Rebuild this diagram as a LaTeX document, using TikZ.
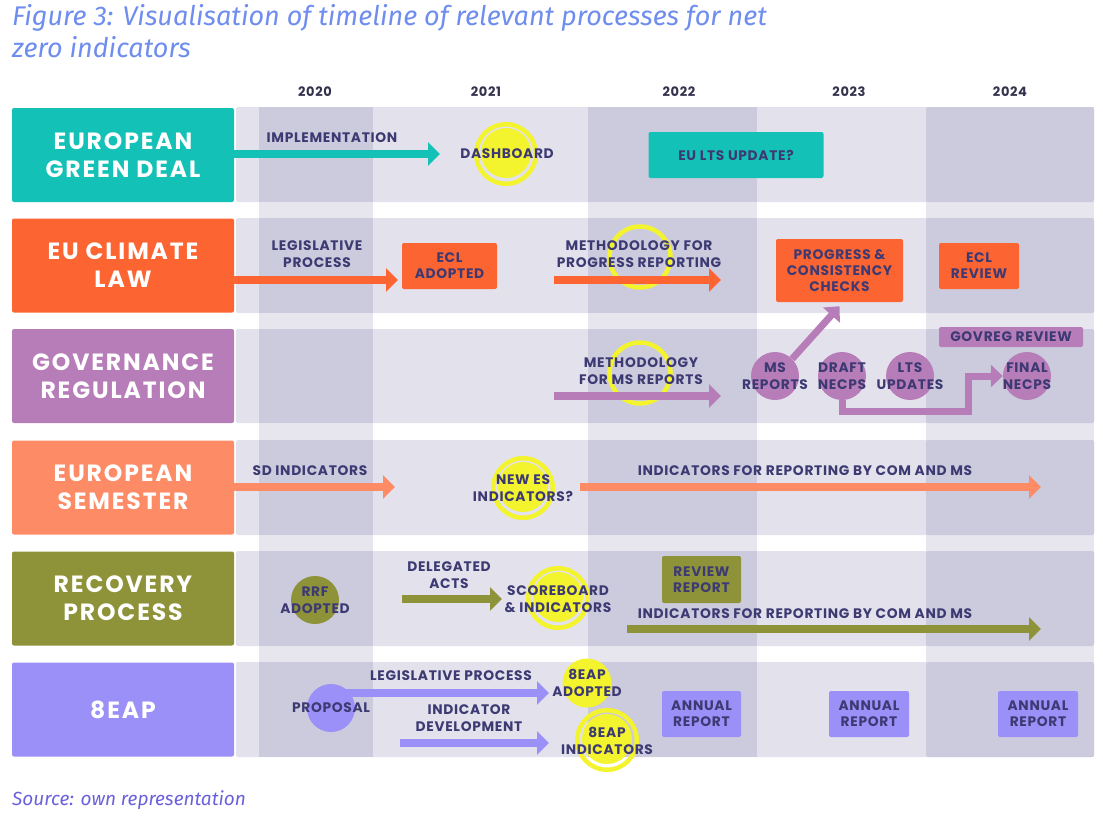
\documentclass[tikz,border=0pt]{standalone}
\usepackage{fontspec}
\usetikzlibrary{arrows.meta}
\newfontfamily\popf{Poppins}[LetterSpace=5]
\newfontfamily\popl{Poppins}[LetterSpace=8]
\newfontfamily\firaf{Fira Sans}
\definecolor{tealc}{HTML}{13C1B7}
\definecolor{orng}{HTML}{FC6432}
\definecolor{purp}{HTML}{B77DB8}
\definecolor{salm}{HTML}{FD8B65}
\definecolor{oliv}{HTML}{8E933A}
\definecolor{viol}{HTML}{9A90F8}
\definecolor{txtc}{HTML}{3D3A73}
\definecolor{yrc}{HTML}{33314D}
\definecolor{rowbg}{HTML}{E3E2EC}
\definecolor{colrow}{HTML}{CCCBDD}
\definecolor{colgap}{HTML}{E7E6EF}
\definecolor{yel}{HTML}{F3F32E}
\definecolor{ttl}{HTML}{6E8DEE}
\definecolor{srcc}{HTML}{6A60DC}
\tikzset{
  lblbox/.style={rectangle, rounded corners=2pt, minimum width=222pt, minimum height=94pt, text=white, font=\popl\bfseries\fontsize{23.5}{28}\selectfont, align=center, inner sep=0pt},
  tl/.style={text=txtc, font=\popf\bfseries\fontsize{13.8}{17}\selectfont, align=center, inner sep=0pt},
  evbox/.style={tl, rectangle, rounded corners=2pt, font=\popf\bfseries\fontsize{13.8}{16}\selectfont},
  yr/.style={text=yrc, font=\popf\bfseries\fontsize{13}{16}\selectfont, inner sep=0pt},
  circ/.style={circle, minimum size=48pt, inner sep=0pt},
  arr/.style={line width=8.5pt, -{Triangle[length=12pt,width=23pt]}},
  arrthin/.style={line width=7pt, -{Triangle[length=12pt,width=22pt]}},
  ringo/.style={circle, draw=yel, line width=4.5pt, minimum size=59.5pt, inner sep=0pt},
  disk/.style={circle, fill=yel, minimum size=50pt, inner sep=0pt},
}
\begin{document}
\begin{tikzpicture}[x=1pt,y=-1pt]
\useasboundingbox (0,0) rectangle (1103,816);
% title
\node[anchor=base west, inner sep=0pt, text=ttl, font=\firaf\itshape\fontsize{27}{32}\selectfont] (title1) at (12,26) {Figure 3: Visualisation of timeline of relevant processes for net};
\node[anchor=base west, inner sep=0pt, text=ttl, font=\firaf\itshape\fontsize{27}{32}\selectfont] (title2) at (12,58) {zero indicators};
\node[anchor=base west, inner sep=0pt, text=srcc, font=\firaf\itshape\fontsize{19}{24}\selectfont] (source) at (12,805) {Source: own representation};
% years
\node[yr] (y2020) at (315,92) {2020};
\node[yr] (y2021) at (486,92) {2021};
\node[yr] (y2022) at (679,92) {2022};
\node[yr] (y2023) at (849,92) {2023};
\node[yr] (y2024) at (1010,92) {2024};
% background columns (full height, light)
\fill[colgap] (259,107) rectangle (373,757);
\fill[colgap] (588,107) rectangle (757,757);
\fill[colgap] (926,107) rectangle (1094,757);
% rows
\foreach \t/\b in {107/202, 218/313, 329/423, 440/535, 551/646, 662/757}{
  \fill[rowbg, rounded corners=2pt] (236,\t) rectangle (1094,\b);
  \fill[colrow] (259,\t) rectangle (373,\b);
  \fill[colrow] (588,\t) rectangle (757,\b);
  \fill[colrow, rounded corners=2pt] (926,\t) rectangle (1094,\b);
}
% label boxes
\node[lblbox, fill=tealc] (lbl1) at (123,155) {EUROPEAN\\GREEN DEAL};
\node[lblbox, fill=orng] (lbl2) at (123,265.5) {EU CLIMATE\\LAW};
\node[lblbox, fill=purp] (lbl3) at (123,376) {GOVERNANCE\\REGULATION};
\node[lblbox, fill=salm] (lbl4) at (123,487.5) {EUROPEAN\\SEMESTER};
\node[lblbox, fill=oliv] (lbl5) at (123,598.5) {RECOVERY\\PROCESS};
\node[lblbox, fill=viol] (lbl6) at (123,709.5) {8EAP};
% highlight rings and disks
\node[disk] (dashd) at (506,153) {};
\node[ringo] (dashr) at (506,154) {};
\node[ringo, minimum size=61pt] (meth1r) at (640,257) {};
\node[ringo, minimum size=61pt] (meth2r) at (640,373) {};
\node[disk] (newesd) at (523,487) {};
\node[ringo] (newesr) at (523,488) {};
\node[disk] (scored) at (558,597) {};
\node[ringo] (scorer) at (558,598) {};
\node[disk, minimum size=49pt] (eapad) at (587,683) {};
\node[disk] (eapid) at (607,739) {};
\node[ringo] (eapir) at (607,740) {};
% free arrow ends
\coordinate (e1) at (440,154);
\coordinate (e2) at (398,280);
\coordinate (m2s) at (554,280);
\coordinate (m2e) at (721,280);
\coordinate (m3s) at (554,396);
\coordinate (m3e) at (721,396);
\coordinate (e4) at (395,487);
\coordinate (i4s) at (580,487);
\coordinate (i4e) at (1041,487);
\coordinate (d5s) at (402,599);
\coordinate (d5e) at (502,599);
\coordinate (i5s) at (627,629);
\coordinate (i5e) at (1041,629);
\coordinate (l6e) at (549,693);
\coordinate (d6s) at (400,743);
\coordinate (d6e) at (549,743);
% arrows
\draw[arr, tealc] (lbl1.east |- e1) -- (e1);
\draw[arr, orng, line width=8pt] (lbl2.east |- e2) -- (e2);
\draw[arr, orng, line width=8pt] (m2s) -- (m2e);
\draw[arr, purp, line width=8pt] (m3s) -- (m3e);
\draw[arr, salm, line width=8pt] (lbl4.east |- e4) -- (e4);
\draw[arr, salm, line width=8pt] (i4s) -- (i4e);
\draw[arr, oliv, line width=8pt] (d5s) -- (d5e);
\draw[arr, oliv, line width=8pt] (i5s) -- (i5e);
\draw[arr, viol, line width=8pt] (d6s) -- (d6e);
% event boxes
\node[evbox, fill=tealc, minimum width=175pt, minimum height=46pt] (ltsupd) at (736,155) {EU LTS UPDATE?};
\node[evbox, fill=orng, minimum width=95pt, minimum height=46pt] (ecladopt) at (449.5,266) {ECL\\ADOPTED};
\node[evbox, fill=orng, minimum width=127pt, minimum height=63pt] (prog) at (839.5,270.5) {PROGRESS \&\\CONSISTENCY\\CHECKS};
\node[evbox, fill=orng, minimum width=80pt, minimum height=46pt] (eclrev) at (979,266) {ECL\\REVIEW};
\node[evbox, fill=purp, minimum width=144pt, minimum height=20pt] (govrev) at (1011,337) {GOVREG REVIEW};
\node[evbox, fill=oliv, minimum width=79pt, minimum height=47pt] (revrep) at (701.5,579.5) {REVIEW\\REPORT};
\node[evbox, fill=viol, minimum width=79pt, minimum height=46pt] (ann1) at (701.5,714) {ANNUAL\\REPORT};
\node[evbox, fill=viol, minimum width=80pt, minimum height=46pt] (ann2) at (869,714) {ANNUAL\\REPORT};
\node[evbox, fill=viol, minimum width=80pt, minimum height=46pt] (ann3) at (1038,714) {ANNUAL\\REPORT};
% circles
\node[circ, fill=purp] (msrep) at (775,376) {};
\node[circ, fill=purp] (draft) at (842,376) {};
\node[circ, fill=purp] (ltsu) at (910,376) {};
\node[circ, fill=purp] (final) at (1027,376) {};
\node[circ, fill=oliv] (rrf) at (315,600) {};
\draw[arr, viol, line width=8pt] (331,693) -- (l6e);
\node[circ, fill=viol] (prop) at (331,708) {};
% governance connectors
\draw[arrthin, purp] (msrep.north east) -- ([yshift=-4pt]prog.south);
\draw[arrthin, purp] (draft.south) |- (968,411) -- (968,376) -- (final.west);
% texts
\node[tl] at (332,138) {IMPLEMENTATION};
\node[tl] at (507,154) {DASHBOARD};
\node[tl] at (317,254.5) {LEGISLATIVE\\PROCESS};
\node[tl] at (639,254.5) {METHODOLOGY FOR\\PROGRESS REPORTING};
\node[tl] at (641,371) {METHODOLOGY\\FOR MS REPORTS};
\node[tl] at (775,376) {MS\\REPORTS};
\node[tl] at (842,376) {DRAFT\\NECPS};
\node[tl] at (910,376) {LTS\\UPDATES};
\node[tl] at (1027,376) {FINAL\\NECPS};
\node[tl] at (310,471) {SD INDICATORS};
\node[tl] at (523,488) {NEW ES\\INDICATORS?};
\node[tl] at (805,471) {INDICATORS FOR REPORTING BY COM AND MS};
\node[tl] at (315,600.5) {RRF\\ADOPTED};
\node[tl] at (449,575) {DELEGATED\\ACTS};
\node[tl] at (558,599.5) {SCOREBOARD\\\& INDICATORS};
\node[tl] at (805,614) {INDICATORS FOR REPORTING BY COM AND MS};
\node[tl] at (331,708) {PROPOSAL};
\node[tl] at (451,676) {LEGISLATIVE PROCESS};
\node[tl] at (587,683) {8EAP\\ADOPTED};
\node[tl] at (469,718) {INDICATOR\\DEVELOPMENT};
\node[tl] at (607,741) {8EAP\\INDICATORS};
\end{tikzpicture}
\end{document}
